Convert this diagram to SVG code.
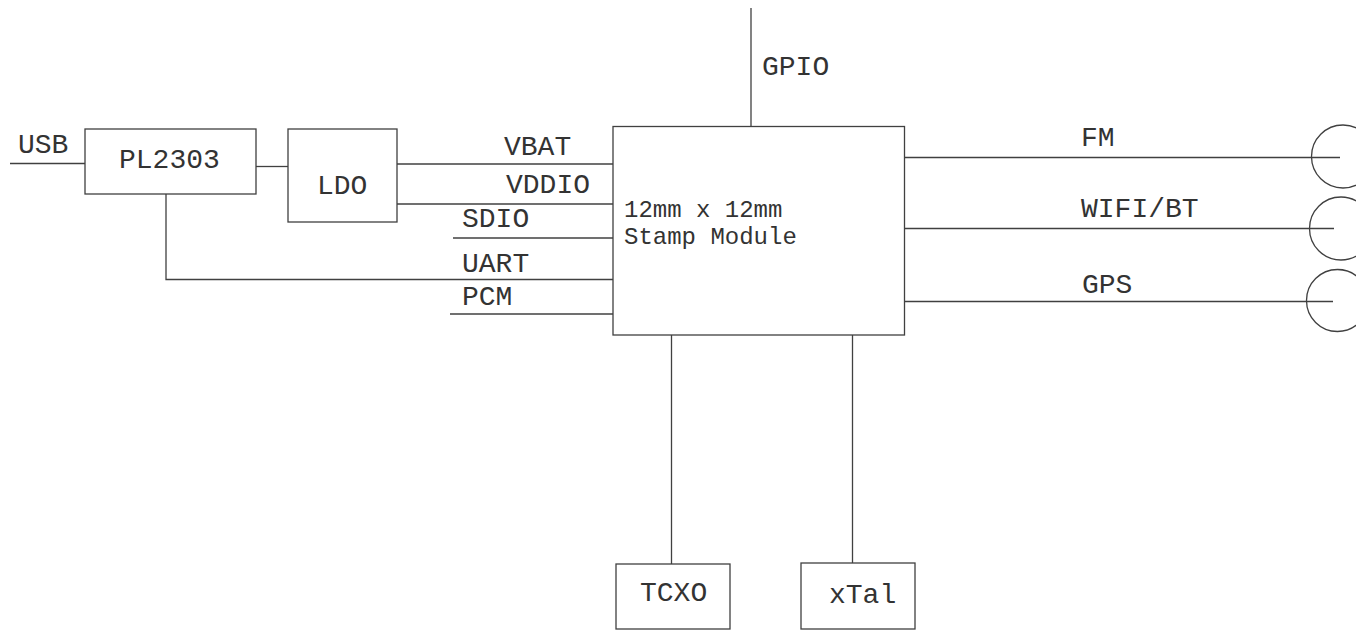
<svg xmlns="http://www.w3.org/2000/svg" width="1356" height="631" viewBox="0 0 1356 631">
<style>
.box{fill:#fff;stroke:#404040;stroke-width:1.3}
.ln{fill:none;stroke:#404040;stroke-width:1.3}
.t{font-family:"Liberation Mono","Courier New",monospace;font-size:28px;fill:#333}
.tm{font-family:"Liberation Mono","Courier New",monospace;font-size:24px;fill:#333}
</style>
<rect width="1356" height="631" fill="#fff"/>
<g id="connectors">
<line class="ln" x1="10" y1="163.5" x2="85" y2="163.5"/>
<line class="ln" x1="256" y1="166.5" x2="288" y2="166.5"/>
<polyline class="ln" points="166,194 166,279.5 613,279.5"/>
<line class="ln" x1="397" y1="164" x2="613" y2="164"/>
<line class="ln" x1="397" y1="204" x2="613" y2="204"/>
<line class="ln" x1="453" y1="238" x2="613" y2="238"/>
<line class="ln" x1="450" y1="314" x2="613" y2="314"/>
<line class="ln" x1="751" y1="8" x2="751" y2="127"/>
<line class="ln" x1="904" y1="157.5" x2="1340" y2="157.5"/>
<line class="ln" x1="904" y1="228.5" x2="1334" y2="228.5"/>
<line class="ln" x1="904" y1="301.5" x2="1333" y2="301.5"/>
<line class="ln" x1="671.5" y1="335" x2="671.5" y2="564"/>
<line class="ln" x1="852.5" y1="335" x2="852.5" y2="563"/>
<text class="t" x="18" y="153">USB</text>
<text class="t" x="504" y="155">VBAT</text>
<text class="t" x="506" y="193">VDDIO</text>
<text class="t" x="462" y="227">SDIO</text>
<text class="t" x="462" y="272">UART</text>
<text class="t" x="462" y="305">PCM</text>
<text class="t" x="762" y="75">GPIO</text>
<text class="t" x="1081" y="146">FM</text>
<text class="t" x="1081" y="217">WIFI/BT</text>
<text class="t" x="1082" y="293">GPS</text>
</g>
<g id="pl2303">
<rect class="box" x="85" y="129" width="171" height="65"/>
<text class="t" x="119" y="168">PL2303</text>
</g>
<g id="ldo">
<rect class="box" x="288" y="129" width="109" height="93"/>
<text class="t" x="317" y="194">LDO</text>
</g>
<g id="module">
<rect class="box" x="613" y="126.5" width="291.5" height="208.5"/>
<text class="tm" x="624" y="217">12mm x 12mm</text>
<text class="tm" x="624" y="244">Stamp Module</text>
</g>
<g id="ant-fm"><circle class="ln" cx="1343" cy="156.5" r="31.5"/></g>
<g id="ant-wifi"><circle class="ln" cx="1341" cy="228.5" r="31.5"/></g>
<g id="ant-gps"><circle class="ln" cx="1337.5" cy="300.5" r="31"/></g>
<g id="tcxo">
<rect class="box" x="616" y="564" width="114" height="65"/>
<text class="t" x="640" y="601">TCXO</text>
</g>
<g id="xtal">
<rect class="box" x="801" y="563" width="114" height="66"/>
<text class="t" x="829" y="603">xTal</text>
</g>
</svg>
